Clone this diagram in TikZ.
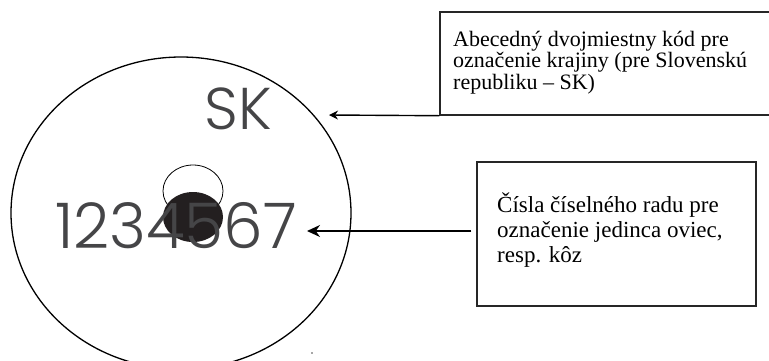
\documentclass[tikz,border=0pt]{standalone}
\usepackage{fontspec}
\setmainfont{Liberation Serif}
\newfontfamily\geo{Poppins Light}
\usetikzlibrary{shapes.geometric,arrows.meta}
\definecolor{digit}{HTML}{454547}
\definecolor{plug}{HTML}{231F20}
\tikzset{
  infobox/.style={draw=black!85, line width=1.4pt, inner sep=0pt, rectangle},
  infotext/.style={anchor=base west, align=left, inner sep=0pt, font=\fontsize{22}{20}\selectfont},
  arr/.style={draw=black, line width=1.4pt, -{Stealth[length=13pt,width=12pt]}},
  bigtext/.style={text=digit, inner sep=0pt, font=\geo},
}
\begin{document}
\begin{tikzpicture}[x=1pt,y=-1pt]
\useasboundingbox (0,0) rectangle (769,360);
\clip (0,0) rectangle (769,360);
\node[ellipse, draw, line width=1.3pt, minimum width=340pt, minimum height=312pt, inner sep=0pt] (tag) at (181,213) {};
\node[ellipse, draw, line width=0.8pt, minimum width=60pt, minimum height=52pt, inner sep=0pt] (loop) at (193,191) {};
\node[ellipse, fill=plug, minimum width=60pt, minimum height=50pt, inner sep=0pt] (plug) at (193,217) {};
\node[bigtext, font=\geo\fontsize{59}{59}\selectfont] (sk) at (238.5,108.5) {SK};
\node[bigtext, font=\geo\fontsize{63}{63}\selectfont] (num) at (176,226) {1234567};
\node[infobox, minimum width=330pt, minimum height=103pt] (box1) at (605,63.5) {};
\node[infotext] (t1) at (453,89) {Abecedný dvojmiestny kód pre\\označenie krajiny (pre Slovenskú\\republiku – SK)};
\node[infobox, minimum width=279pt, minimum height=144pt] (box2) at (616.5,234) {};
\node[infotext, font=\fontsize{23}{25}\selectfont] (t2) at (497,262) {Čísla číselného radu pre\\označenie jedinca oviec,\\resp. kôz};
\coordinate (tip1) at (329,115);
\coordinate (tip2) at (307,231);
\draw[arr, -{Stealth[length=9pt,width=9pt]}] (box1.south west) -- (tip1);
\draw[arr] ([xshift=-5pt,yshift=3pt]box2.west) -- (tip2);
\fill[black!70] (312,353) circle (0.8);
\end{tikzpicture}
\end{document}
